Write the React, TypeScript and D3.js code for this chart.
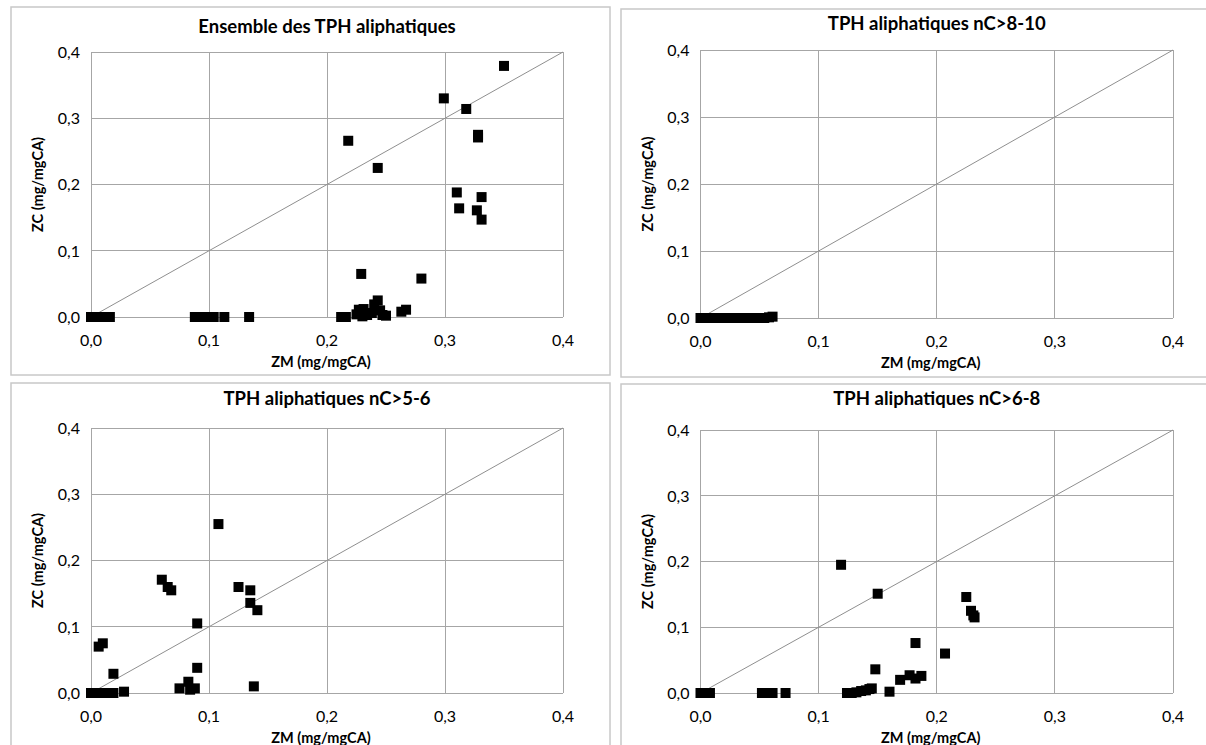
import React from "react";
import * as d3 from "d3";

// ---------- data (ZM, ZC in mg/mgCA) ----------
const ticks = [0, 0.1, 0.2, 0.3, 0.4];
const tickLabels = ["0,0", "0,1", "0,2", "0,3", "0,4"];

const titles = [
  "Ensemble des TPH aliphatiques",
  "TPH aliphatiques nC>8-10",
  "TPH aliphatiques nC>5-6",
  "TPH aliphatiques nC>6-8",
];

const ensembleZM = [0, 0.004, 0.008, 0.012, 0.016, 0.088, 0.094, 0.099, 0.104, 0.113, 0.134,
  0.212, 0.216, 0.218, 0.225, 0.227, 0.231, 0.230, 0.234, 0.238, 0.240, 0.243, 0.245, 0.247, 0.250,
  0.229, 0.243, 0.263, 0.267, 0.280, 0.299, 0.318, 0.328, 0.328, 0.310, 0.331, 0.312, 0.327, 0.331, 0.350];
const ensembleZC = [0, 0, 0, 0, 0, 0, 0, 0, 0, 0, 0,
  0, 0, 0.266, 0.004, 0.011, 0.012, 0.001, 0.003, 0.006, 0.019, 0.025, 0.010, 0.003, 0.002,
  0.065, 0.225, 0.008, 0.011, 0.058, 0.330, 0.314, 0.275, 0.271, 0.188, 0.181, 0.164, 0.161, 0.147, 0.379];

const c8ZM = [0, 0.002, 0.004, 0.006, 0.008, 0.010, 0.012, 0.014, 0.016, 0.018, 0.020, 0.022,
  0.025, 0.028, 0.030, 0.033, 0.036, 0.039, 0.042, 0.050, 0.054, 0.058, 0.061];
const c8ZC = [0, 0, 0, 0, 0, 0, 0, 0, 0, 0, 0, 0,
  0, 0, 0, 0, 0, 0, 0, 0, 0, 0.001, 0.002];

const c5ZM = [0, 0.004, 0.008, 0.012, 0.016, 0.019, 0.028, 0.0065, 0.010, 0.019, 0.060, 0.065, 0.068,
  0.075, 0.0825, 0.084, 0.088, 0.090, 0.090, 0.108, 0.125, 0.135, 0.135, 0.138, 0.141];
const c5ZC = [0, 0, 0, 0, 0, 0, 0.002, 0.070, 0.075, 0.029, 0.171, 0.160, 0.155,
  0.007, 0.017, 0.005, 0.007, 0.038, 0.105, 0.255, 0.160, 0.155, 0.136, 0.010, 0.125];

const c6ZM = [0, 0.004, 0.008, 0.052, 0.055, 0.058, 0.061, 0.072, 0.119, 0.124, 0.128, 0.132, 0.136,
  0.140, 0.143, 0.145, 0.148, 0.150, 0.160, 0.169, 0.177, 0.182, 0.187, 0.182, 0.207, 0.225, 0.229, 0.231, 0.232];
const c6ZC = [0, 0, 0, 0, 0, 0, 0, 0, 0.195, 0, 0, 0.001, 0.003,
  0.004, 0.006, 0.007, 0.036, 0.151, 0.002, 0.020, 0.027, 0.022, 0.026, 0.076, 0.060, 0.146, 0.125, 0.118, 0.115];

const seriesZM = [ensembleZM, c8ZM, c5ZM, c6ZM];
const seriesZC = [ensembleZC, c8ZC, c5ZC, c6ZC];

// ---------- layout ----------
const layout = [
  { fx: 11, fy: 7, plot: [91, 563, 52, 317], titleY: 33 },
  { fx: 621, fy: 9, plot: [700.5, 1173, 50, 318], titleY: 30 },
  { fx: 11, fy: 383, plot: [91, 563, 428, 693], titleY: 405 },
  { fx: 621, fy: 384, plot: [700.5, 1173, 430, 693], titleY: 405 },
];

const FONT = "Lato, 'Open Sans', sans-serif";
const GRID = "#a6a6a6";

function Panel({ i }: { i: number }) {
  const L = layout[i];
  const [x0, x1, y0, y1] = L.plot;
  const x = d3.scaleLinear().domain([0, 0.4]).range([x0, x1]);
  const y = d3.scaleLinear().domain([0, 0.4]).range([y1, y0]);
  const zm = seriesZM[i];
  const zc = seriesZC[i];
  const cx = (x0 + x1) / 2;
  const cy = (y0 + y1) / 2;
  const diag = d3.line<number>().x((d) => x(d)).y((d) => y(d))([0, 0.4]) || "";
  return (
    <g>
      <rect x={L.fx} y={L.fy} width={599} height={368} fill="#fff" stroke="#c8c8c8" strokeWidth={1.5} />
      <text x={cx} y={L.titleY} textAnchor="middle" fontFamily={FONT} fontWeight="bold" fontSize={18.5} fill="#000">
        {titles[i]}
      </text>
      {ticks.map((t, k) => (
        <g key={k}>
          <line x1={x(t)} x2={x(t)} y1={y0} y2={y1} stroke={GRID} strokeWidth={1} shapeRendering="crispEdges" />
          <line x1={x0} x2={x1} y1={y(t)} y2={y(t)} stroke={GRID} strokeWidth={1} shapeRendering="crispEdges" />
          <text x={x(t)} y={y1 + 29} textAnchor="middle" fontFamily={FONT} fontSize={16} fill="#000">
            {tickLabels[k]}
          </text>
          <text x={x0 - 11} y={y(t) + 5.8} textAnchor="end" fontFamily={FONT} fontSize={16} fill="#000">
            {tickLabels[k]}
          </text>
        </g>
      ))}
      <path d={diag} stroke="#8f8f8f" strokeWidth={1} fill="none" />
      {zm.map((v, k) => (
        <rect key={k} x={x(v) - 5} y={y(zc[k]) - 5} width={10} height={10} fill="#000" />
      ))}
      <text x={cx - 6} y={y1 + 50} textAnchor="middle" fontFamily={FONT} fontWeight="bold" fontSize={14.5} fill="#000">
        ZM (mg/mgCA)
      </text>
      <text
        transform={`translate(${L.fx + 32},${cy}) rotate(-90)`}
        textAnchor="middle"
        fontFamily={FONT}
        fontWeight="bold"
        fontSize={14.5}
        fill="#000"
      >
        ZC (mg/mgCA)
      </text>
    </g>
  );
}

export default function App() {
  return (
    <svg
      width={1206}
      height={745}
      style={{ position: "absolute", left: 0, top: 0, background: "#fff" }}
    >
      <rect x={0} y={0} width={1206} height={745} fill="#fff" />
      {[0, 1, 2, 3].map((i) => (
        <Panel key={i} i={i} />
      ))}
    </svg>
  );
}
